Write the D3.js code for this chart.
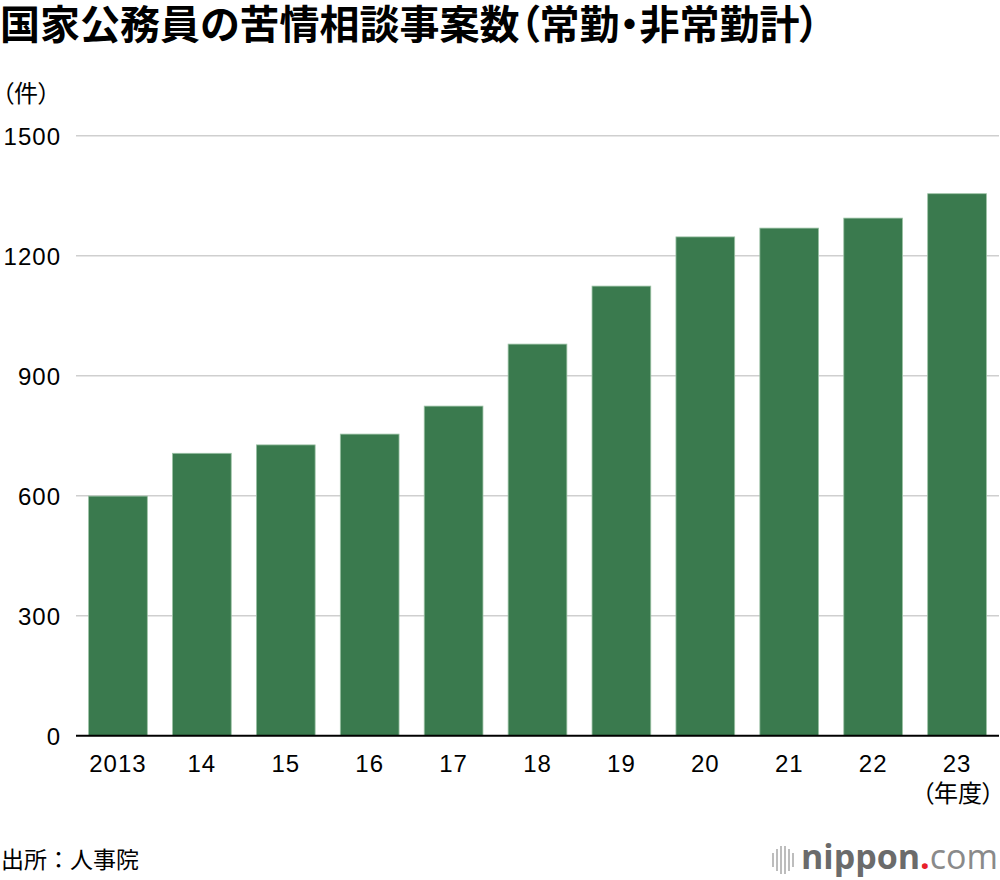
<!DOCTYPE html>
<html><head><meta charset="utf-8">
<script src="https://cdn.jsdelivr.net/npm/d3@7"></script>
<style>
html,body{margin:0;padding:0;background:#fff;}
svg{display:block;}
.palt{font-feature-settings:"palt";}
</style></head>
<body>
<svg id="c" width="1000" height="880"></svg>
<script>
const categories = ["2013","14","15","16","17","18","19","20","21","22","23"];
const values = [599, 706, 727, 754, 824, 979, 1124, 1247, 1269, 1294, 1355];
const yTicks = [0, 300, 600, 900, 1200, 1500];

const svg = d3.select("#c");
const jp = "'Noto Sans CJK JP', 'Noto Sans', sans-serif";
const num = "'Liberation Sans', Arial, sans-serif";

const x = d3.scaleBand().domain(categories).range([76, 999]).paddingInner(0.3).paddingOuter(0.15);
const y = d3.scaleLinear().domain([0, 1500]).range([735.7, 135.7]);

// title
svg.append("text").attr("class", "palt").attr("x", 0).attr("y", 39)
  .attr("font-family", jp).attr("font-weight", 700).attr("font-size", 40)
  .attr("fill", "#000").text("国家公務員の苦情相談事案数（常勤・非常勤計）");

svg.append("text").attr("class", "palt").attr("x", 2).attr("y", 102)
  .attr("font-family", jp).attr("font-size", 24).attr("fill", "#000").text("（件）");

// y axis labels
const yAxis = d3.axisLeft(y).tickValues(yTicks).tickSize(0).tickPadding(0).tickFormat(d3.format("d"));
const gy = svg.append("g").attr("transform", "translate(61,0)").call(yAxis);
gy.select(".domain").remove();
gy.selectAll("text").attr("font-family", num).attr("font-size", 24).attr("letter-spacing", 1)
  .attr("fill", "#000").attr("dy", "0.36em");

// grid
svg.append("g").selectAll("line").data(yTicks.filter(d => d > 0)).join("line")
  .attr("x1", 76).attr("x2", 999)
  .attr("y1", d => y(d)).attr("y2", d => y(d))
  .attr("stroke", "#cfcfcf").attr("stroke-width", 1.6);

// bars
svg.append("g").selectAll("rect").data(values).join("rect")
  .attr("x", (d, i) => x(categories[i]))
  .attr("width", x.bandwidth())
  .attr("y", d => y(d))
  .attr("height", d => y(0) - y(d))
  .attr("fill", "#3a7a4e")
  .attr("stroke", "#9cc2a5").attr("stroke-width", 0.8);

// x axis
const xAxis = d3.axisBottom(x).tickSize(0).tickPadding(0);
const gx = svg.append("g").attr("transform", `translate(0,${y(0)})`).call(xAxis);
gx.select(".domain").remove();
gx.selectAll("text").attr("font-family", num).attr("font-size", 24).attr("letter-spacing", 1)
  .attr("fill", "#000").attr("dy", null).attr("y", 36);
svg.append("line").attr("x1", 76).attr("x2", 999).attr("y1", y(0)).attr("y2", y(0))
  .attr("stroke", "#000").attr("stroke-width", 2);

svg.append("text").attr("class", "palt").attr("x", 994).attr("y", 802).attr("text-anchor", "end")
  .attr("font-family", jp).attr("font-size", 24).attr("fill", "#000").text("（年度）");

// source
svg.append("text").attr("x", 1).attr("y", 868)
  .attr("font-family", jp).attr("font-size", 23).attr("fill", "#000").text("出所：人事院");

// logo
const logo = svg.append("g");
const barsIcon = [[773,853,867],[777,849,871],[781,846,874],[785,846,874],[789,849,871],[793,853,867]];
logo.selectAll("line").data(barsIcon).join("line")
  .attr("x1", d => d[0]).attr("x2", d => d[0]).attr("y1", d => d[1]).attr("y2", d => d[2])
  .attr("stroke", "#bdbdbd").attr("stroke-width", 2);
const lt = logo.append("text").attr("x", 998).attr("y", 869).attr("text-anchor", "end")
  .attr("font-family", "'Open Sans', sans-serif").attr("font-size", 34);
lt.append("tspan").attr("font-weight", 700).attr("fill", "#6b6b6b").text("nippon");
lt.append("tspan").attr("font-weight", 700).attr("fill", "#e8202a").text(".");
lt.append("tspan").attr("font-weight", 400).attr("fill", "#8a8a8a").text("com");
</script>
</body></html>
